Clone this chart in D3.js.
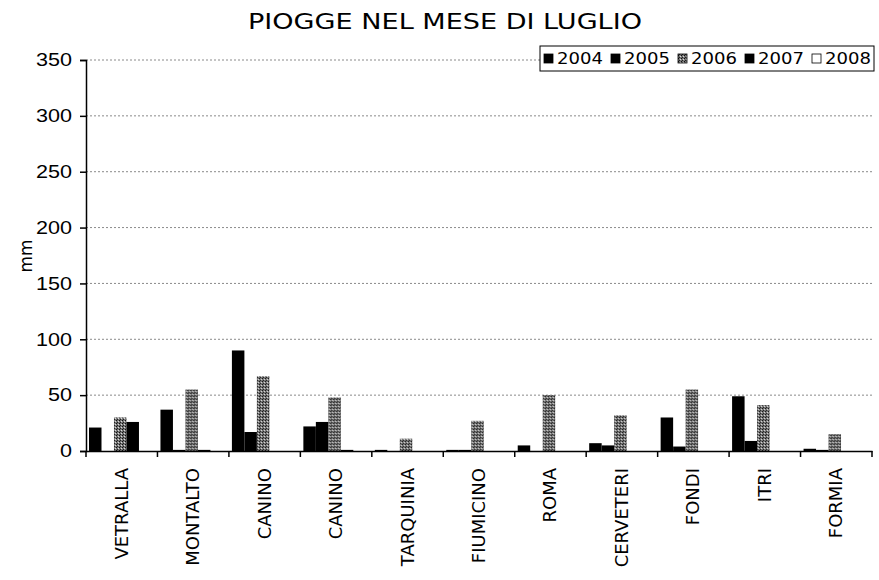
<!DOCTYPE html>
<html>
<head>
<meta charset="utf-8">
<script src="https://cdn.jsdelivr.net/npm/d3@7"></script>
<style>
  body { margin: 0; background: #fff; }
  svg { font-family: "DejaVu Sans", Verdana, sans-serif; }
</style>
</head>
<body>
<svg id="chart" width="879" height="580"></svg>
<script>
const stations = ["VETRALLA", "MONTALTO", "CANINO", "CANINO ", "TARQUINIA", "FIUMICINO",
  "ROMA", "CERVETERI", "FONDI", "ITRI", "FORMIA"];
const years = ["2004", "2005", "2006", "2007", "2008"];

// mm di pioggia per stazione, una lista per anno
const rain2004 = [21, 37, 90, 22, 1, 1, 5, 7, 30, 49, 2];
const rain2005 = [0, 1, 17, 26, 0, 1, 0, 5, 4, 9, 1];
const rain2006 = [30, 55, 67, 48, 11, 27, 50, 32, 55, 41, 15];
const rain2007 = [26, 1, 0, 1, 0, 0, 0, 0, 0, 0, 0];
const rain2008 = [0, 0, 0, 0, 0, 0, 0, 0, 0, 0, 0];
const series = [rain2004, rain2005, rain2006, rain2007, rain2008];
const yTicks = [0, 50, 100, 150, 200, 250, 300, 350];

const svg = d3.select("#chart");
const m = {left: 86, right: 7, top: 60, bottom: 129};
const W = 879, H = 580;

// retino per il 2006 (scansione in grigio)
const defs = svg.append("defs");
const pat = defs.append("pattern").attr("id", "dots")
  .attr("width", 3).attr("height", 3).attr("patternUnits", "userSpaceOnUse");
pat.append("rect").attr("width", 3).attr("height", 3).attr("fill", "#777");
pat.append("rect").attr("width", 1).attr("height", 1).attr("fill", "#111");
pat.append("rect").attr("x", 2).attr("y", 1).attr("width", 1).attr("height", 1).attr("fill", "#ddd");
pat.append("rect").attr("x", 1).attr("y", 2).attr("width", 1).attr("height", 1).attr("fill", "#222");

const fills = ["#000", "#000", "url(#dots)", "#000", "#fff"];

const x0 = d3.scaleBand().domain(stations).range([m.left, W - m.right]).paddingInner(0).paddingOuter(0);
const x1 = d3.scaleBand().domain(years).range([3, x0.bandwidth() - 6]).padding(0);
const y = d3.scaleLinear().domain([0, 350]).range([H - m.bottom, m.top]);

// griglia
svg.append("g").selectAll("line").data(yTicks.slice(1)).join("line")
  .attr("x1", m.left).attr("x2", W - m.right)
  .attr("y1", d => y(d)).attr("y2", d => y(d))
  .attr("stroke", "#8a8a8a").attr("stroke-width", 1)
  .attr("stroke-dasharray", "2,2");

// barre
const groups = svg.append("g").selectAll("g").data(stations).join("g")
  .attr("transform", d => `translate(${x0(d)},0)`);
groups.selectAll("rect").data((d, i) => years.map((yr, k) => ({yr, k, v: series[k][i]})))
  .join("rect")
  .attr("x", d => x1(d.yr))
  .attr("width", x1.bandwidth())
  .attr("y", d => y(d.v))
  .attr("height", d => y(0) - y(d.v))
  .attr("fill", d => fills[d.k])
  .attr("stroke", d => d.k === 4 ? "#000" : "none");

// asse y
const yAxis = svg.append("g").attr("transform", `translate(${m.left},0)`)
  .call(d3.axisLeft(y).tickValues(yTicks).tickSize(6).tickPadding(8));
yAxis.select(".domain").attr("stroke-width", 1.5);
yAxis.selectAll("line").attr("stroke-width", 1.5);
yAxis.selectAll("text").attr("font-size", 18).attr("fill", "#000")
  .attr("textLength", d => String(d).length * 12).attr("lengthAdjust", "spacingAndGlyphs");

// asse x
const xAxis = svg.append("g").attr("transform", `translate(0,${y(0)})`)
  .call(d3.axisBottom(x0).tickSize(0).tickFormat(""));
xAxis.select(".domain").attr("stroke-width", 1.5);
xAxis.selectAll(".tick").remove();
xAxis.append("g").selectAll("line").data(stations.concat(["end"])).join("line")
  .attr("x1", (d, i) => m.left + i * x0.step()).attr("x2", (d, i) => m.left + i * x0.step())
  .attr("y1", 0).attr("y2", 6).attr("stroke", "#000").attr("stroke-width", 1.5);

svg.append("g").selectAll("text").data(stations).join("text")
  .attr("transform", d => `translate(${x0(d) + x0.bandwidth() / 2 + 6},${y(0) + 17}) rotate(-90)`)
  .attr("text-anchor", "end")
  .attr("font-size", 18)
  .text(d => d.trim());

// titolo e etichetta asse
svg.append("text").attr("x", 445).attr("y", 29).attr("text-anchor", "middle")
  .attr("font-size", 21).attr("textLength", 394).attr("lengthAdjust", "spacingAndGlyphs")
  .text("PIOGGE NEL MESE DI LUGLIO");
svg.append("text").attr("transform", "translate(32,256) rotate(-90)")
  .attr("text-anchor", "middle").attr("font-size", 17).text("mm");

// legenda
const leg = svg.append("g").attr("transform", "translate(540,46)");
leg.append("rect").attr("width", 334).attr("height", 25).attr("fill", "#fff").attr("stroke", "#000");
const li = leg.selectAll("g").data(years).join("g")
  .attr("transform", (d, i) => `translate(${4 + i * 67},0)`);
li.append("rect").attr("y", 8).attr("width", 9).attr("height", 9)
  .attr("fill", (d, i) => fills[i]).attr("stroke", "#000").attr("stroke-width", 0.8);
li.append("text").attr("x", 13).attr("y", 18).attr("font-size", 15)
  .attr("textLength", 46).attr("lengthAdjust", "spacingAndGlyphs").text(d => d);
</script>
</body>
</html>
